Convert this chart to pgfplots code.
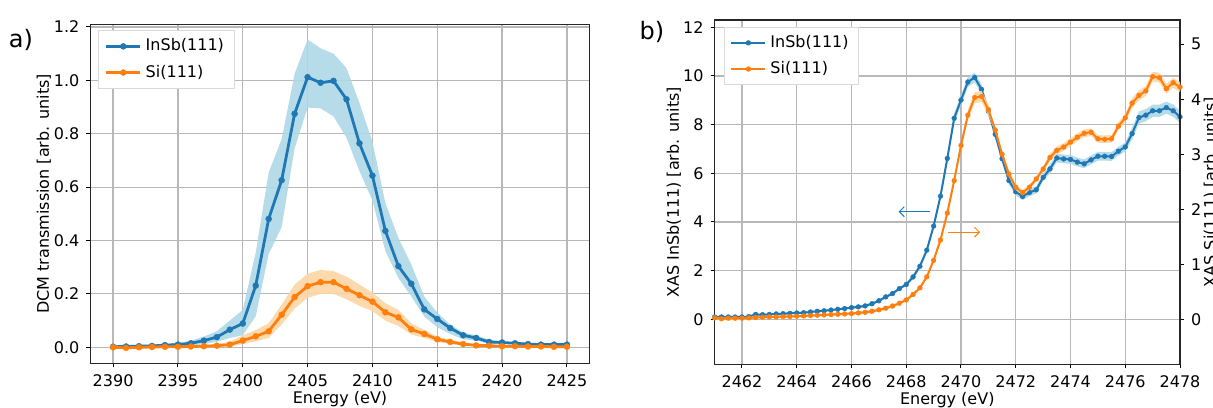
\documentclass[border=0pt]{standalone}
\usepackage{fontspec}
\setmainfont{DejaVu Sans}
\usepackage{pgfplots}
\usepackage{pgfplotstable}
\pgfplotsset{compat=1.18}
\usetikzlibrary{arrows.meta}

\definecolor{tabblue}{HTML}{1F77B4}
\definecolor{taborange}{HTML}{FF7F0E}
\definecolor{bandblue}{HTML}{ADD8E6}
\definecolor{bandorange}{HTML}{FDD5A5}

\newcommand{\lblfont}{\fontsize{8}{9.6}\selectfont}

\pgfplotsset{
  mpl/.style={
    scale only axis,
    tick align=outside,
    major tick length=2pt,
    tick style={black, line width=0.5pt},
    tick pos=left,
    grid=major,
    grid style={black!28, line width=0.6pt},
    axis line style={black!85, line width=0.6pt},
    tick label style={font=\lblfont},
    label style={font=\lblfont},
    xlabel style={at={(axis description cs:0.5,0)}, anchor=base, yshift=-20.3pt},
    /pgf/number format/assume math mode=true,
    /pgf/number format/1000 sep={},
    scaled ticks=false,
    legend cell align=left,
    legend style={font=\lblfont, draw=black!15, fill=white,
      inner xsep=3pt, inner ysep=2pt, row sep=1.5pt},
  },
  dots/.style={mark=*, mark options={solid, line width=0.2pt}},
}

% ---------- panel a: DCM transmission
\pgfplotstableread{
E y
2390 0.002
2391 0.003
2392 0.004
2393 0.005
2394 0.008
2395 0.010
2396 0.015
2397 0.025
2398 0.038
2399 0.066
2400 0.089
2401 0.231
2402 0.481
2403 0.626
2404 0.875
2405 1.012
2406 0.991
2407 0.998
2408 0.929
2409 0.764
2410 0.643
2411 0.436
2412 0.304
2413 0.238
2414 0.142
2415 0.106
2416 0.072
2417 0.045
2418 0.035
2419 0.020
2420 0.018
2421 0.015
2422 0.012
2423 0.010
2424 0.010
2425 0.010
}\dcminsb

% band outline: upper edge forward, lower edge back
\pgfplotstableread{
E b
2390 0.006
2391 0.007
2392 0.008
2393 0.010
2394 0.013
2395 0.017
2396 0.025
2397 0.040
2398 0.060
2399 0.100
2400 0.140
2401 0.355
2402 0.655
2403 0.780
2404 1.025
2405 1.153
2406 1.120
2407 1.100
2408 1.046
2409 0.915
2410 0.770
2411 0.540
2412 0.410
2413 0.310
2414 0.190
2415 0.130
2416 0.085
2417 0.055
2418 0.045
2419 0.028
2420 0.022
2421 0.019
2422 0.015
2423 0.013
2424 0.013
2425 0.013
2425 0.007
2424 0.007
2423 0.007
2422 0.009
2421 0.011
2420 0.013
2419 0.013
2418 0.025
2417 0.030
2416 0.050
2415 0.075
2414 0.115
2413 0.190
2412 0.260
2411 0.360
2410 0.550
2409 0.660
2408 0.785
2407 0.865
2406 0.895
2405 0.898
2404 0.745
2403 0.450
2402 0.350
2401 0.116
2400 0.045
2399 0.035
2398 0.020
2397 0.012
2396 0.007
2395 0.004
2394 0.003
2393 0.001
2392 0.001
2391 0.000
2390 0.000
}\dcminsbband

\pgfplotstableread{
E y
2390 0.000
2391 -0.002
2392 0.000
2393 0.001
2394 0.002
2395 0.002
2396 0.003
2397 0.004
2398 0.006
2399 0.010
2400 0.025
2401 0.041
2402 0.060
2403 0.122
2404 0.188
2405 0.229
2406 0.244
2407 0.244
2408 0.219
2409 0.195
2410 0.171
2411 0.131
2412 0.112
2413 0.067
2414 0.050
2415 0.030
2416 0.020
2417 0.012
2418 0.007
2419 0.006
2420 0.004
2421 0.004
2422 0.003
2423 0.003
2424 0.002
2425 0.002
}\dcmsi

\pgfplotstableread{
E b
2390 0.003
2391 0.001
2392 0.003
2393 0.004
2394 0.005
2395 0.006
2396 0.007
2397 0.009
2398 0.012
2399 0.020
2400 0.045
2401 0.065
2402 0.090
2403 0.160
2404 0.235
2405 0.275
2406 0.290
2407 0.285
2408 0.265
2409 0.235
2410 0.205
2411 0.165
2412 0.140
2413 0.090
2414 0.065
2415 0.040
2416 0.028
2417 0.018
2418 0.011
2419 0.009
2420 0.007
2421 0.007
2422 0.006
2423 0.006
2424 0.005
2425 0.005
2425 -0.001
2424 -0.001
2423 0.000
2422 0.000
2421 0.001
2420 0.001
2419 0.003
2418 0.003
2417 0.006
2416 0.012
2415 0.020
2414 0.035
2413 0.048
2412 0.080
2411 0.100
2410 0.135
2409 0.155
2408 0.180
2407 0.200
2406 0.200
2405 0.185
2404 0.145
2403 0.085
2402 0.035
2401 0.022
2400 0.012
2399 0.003
2398 0.001
2397 0.000
2396 0.000
2395 -0.001
2394 -0.001
2393 -0.002
2392 -0.003
2391 -0.005
2390 -0.003
}\dcmsiband

% ---------- panel b: XAS (InSb left axis, Si right axis)
\pgfplotstableread{
E y
2461.00 0.095
2461.25 0.095
2461.50 0.095
2461.75 0.095
2462.00 0.095
2462.25 0.110
2462.50 0.200
2462.75 0.190
2463.00 0.200
2463.25 0.220
2463.50 0.230
2463.75 0.245
2464.00 0.260
2464.25 0.270
2464.50 0.300
2464.75 0.330
2465.00 0.350
2465.25 0.380
2465.50 0.410
2465.75 0.440
2466.00 0.480
2466.25 0.510
2466.50 0.550
2466.75 0.640
2467.00 0.760
2467.25 0.920
2467.50 1.060
2467.75 1.260
2468.00 1.430
2468.25 1.740
2468.50 2.180
2468.75 2.840
2469.00 3.830
2469.25 5.060
2469.50 6.610
2469.75 8.260
2470.00 9.010
2470.25 9.750
2470.50 9.940
2470.75 9.450
2471.00 8.550
2471.25 7.600
2471.50 6.600
2471.75 5.700
2472.00 5.240
2472.25 5.050
2472.50 5.210
2472.75 5.320
2473.00 5.830
2473.25 6.180
2473.50 6.630
2473.75 6.590
2474.00 6.570
2474.25 6.460
2474.50 6.390
2474.75 6.550
2475.00 6.700
2475.25 6.700
2475.50 6.690
2475.75 6.910
2476.00 7.080
2476.25 7.630
2476.50 8.290
2476.75 8.390
2477.00 8.570
2477.25 8.570
2477.50 8.700
2477.75 8.570
2478.00 8.320
}\xasinsb

\pgfplotstableread{
E b
2461.00 0.135
2461.25 0.135
2461.50 0.135
2461.75 0.135
2462.00 0.135
2462.25 0.150
2462.50 0.240
2462.75 0.230
2463.00 0.240
2463.25 0.260
2463.50 0.270
2463.75 0.285
2464.00 0.300
2464.25 0.310
2464.50 0.340
2464.75 0.370
2465.00 0.390
2465.25 0.420
2465.50 0.450
2465.75 0.480
2466.00 0.520
2466.25 0.570
2466.50 0.610
2466.75 0.700
2467.00 0.820
2467.25 0.980
2467.50 1.120
2467.75 1.320
2468.00 1.490
2468.25 1.840
2468.50 2.280
2468.75 2.940
2469.00 3.930
2469.25 5.160
2469.50 6.710
2469.75 8.460
2470.00 9.210
2470.25 9.950
2470.50 10.140
2470.75 9.650
2471.00 8.750
2471.25 7.750
2471.50 6.750
2471.75 5.850
2472.00 5.390
2472.25 5.200
2472.50 5.360
2472.75 5.470
2473.00 5.980
2473.25 6.360
2473.50 6.810
2473.75 6.770
2474.00 6.750
2474.25 6.640
2474.50 6.570
2474.75 6.730
2475.00 6.880
2475.25 6.880
2475.50 6.870
2475.75 7.090
2476.00 7.260
2476.25 7.880
2476.50 8.540
2476.75 8.640
2477.00 8.820
2477.25 8.820
2477.50 8.950
2477.75 8.820
2478.00 8.570
2478.00 8.070
2477.75 8.320
2477.50 8.450
2477.25 8.320
2477.00 8.320
2476.75 8.140
2476.50 8.040
2476.25 7.380
2476.00 6.900
2475.75 6.730
2475.50 6.510
2475.25 6.520
2475.00 6.520
2474.75 6.370
2474.50 6.210
2474.25 6.280
2474.00 6.390
2473.75 6.410
2473.50 6.450
2473.25 6.000
2473.00 5.680
2472.75 5.170
2472.50 5.060
2472.25 4.900
2472.00 5.090
2471.75 5.550
2471.50 6.450
2471.25 7.450
2471.00 8.350
2470.75 9.250
2470.50 9.740
2470.25 9.550
2470.00 8.810
2469.75 8.060
2469.50 6.510
2469.25 4.960
2469.00 3.730
2468.75 2.740
2468.50 2.080
2468.25 1.640
2468.00 1.370
2467.75 1.200
2467.50 1.000
2467.25 0.860
2467.00 0.700
2466.75 0.580
2466.50 0.490
2466.25 0.450
2466.00 0.440
2465.75 0.400
2465.50 0.370
2465.25 0.340
2465.00 0.310
2464.75 0.290
2464.50 0.260
2464.25 0.230
2464.00 0.220
2463.75 0.205
2463.50 0.190
2463.25 0.180
2463.00 0.160
2462.75 0.150
2462.50 0.160
2462.25 0.070
2462.00 0.055
2461.75 0.055
2461.50 0.055
2461.25 0.055
2461.00 0.055
}\xasinsbband

\pgfplotstableread{
E y
2461.00 0.024
2461.25 0.006
2461.50 0.018
2461.75 0.018
2462.00 0.018
2462.25 0.024
2462.50 0.030
2462.75 0.036
2463.00 0.042
2463.25 0.042
2463.50 0.048
2463.75 0.050
2464.00 0.054
2464.25 0.060
2464.50 0.066
2464.75 0.072
2465.00 0.078
2465.25 0.084
2465.50 0.090
2465.75 0.096
2466.00 0.102
2466.25 0.114
2466.50 0.126
2466.75 0.144
2467.00 0.170
2467.25 0.200
2467.50 0.240
2467.75 0.290
2468.00 0.350
2468.25 0.450
2468.50 0.570
2468.75 0.770
2469.00 1.070
2469.25 1.440
2469.50 1.930
2469.75 2.520
2470.00 3.160
2470.25 3.710
2470.50 4.030
2470.75 4.050
2471.00 3.810
2471.25 3.440
2471.50 3.000
2471.75 2.640
2472.00 2.400
2472.25 2.300
2472.50 2.400
2472.75 2.550
2473.00 2.730
2473.25 2.940
2473.50 3.070
2473.75 3.130
2474.00 3.220
2474.25 3.310
2474.50 3.380
2474.75 3.400
2475.00 3.280
2475.25 3.270
2475.50 3.280
2475.75 3.510
2476.00 3.660
2476.25 3.930
2476.50 4.070
2476.75 4.150
2477.00 4.410
2477.25 4.390
2477.50 4.190
2477.75 4.300
2478.00 4.220
}\xassi

\pgfplotstableread{
E b
2461.00 0.044
2461.25 0.026
2461.50 0.038
2461.75 0.038
2462.00 0.038
2462.25 0.044
2462.50 0.050
2462.75 0.056
2463.00 0.062
2463.25 0.062
2463.50 0.068
2463.75 0.070
2464.00 0.074
2464.25 0.080
2464.50 0.086
2464.75 0.092
2465.00 0.098
2465.25 0.104
2465.50 0.110
2465.75 0.116
2466.00 0.122
2466.25 0.144
2466.50 0.156
2466.75 0.174
2467.00 0.200
2467.25 0.230
2467.50 0.270
2467.75 0.320
2468.00 0.380
2468.25 0.480
2468.50 0.600
2468.75 0.800
2469.00 1.100
2469.25 1.490
2469.50 1.980
2469.75 2.570
2470.00 3.210
2470.25 3.810
2470.50 4.130
2470.75 4.150
2471.00 3.910
2471.25 3.490
2471.50 3.050
2471.75 2.690
2472.00 2.450
2472.25 2.350
2472.50 2.450
2472.75 2.600
2473.00 2.780
2473.25 3.010
2473.50 3.140
2473.75 3.200
2474.00 3.290
2474.25 3.380
2474.50 3.450
2474.75 3.470
2475.00 3.350
2475.25 3.340
2475.50 3.350
2475.75 3.580
2476.00 3.730
2476.25 4.020
2476.50 4.160
2476.75 4.240
2477.00 4.500
2477.25 4.480
2477.50 4.280
2477.75 4.390
2478.00 4.310
2478.00 4.130
2477.75 4.210
2477.50 4.100
2477.25 4.300
2477.00 4.320
2476.75 4.060
2476.50 3.980
2476.25 3.840
2476.00 3.590
2475.75 3.440
2475.50 3.210
2475.25 3.200
2475.00 3.210
2474.75 3.330
2474.50 3.310
2474.25 3.240
2474.00 3.150
2473.75 3.060
2473.50 3.000
2473.25 2.870
2473.00 2.680
2472.75 2.500
2472.50 2.350
2472.25 2.250
2472.00 2.350
2471.75 2.590
2471.50 2.950
2471.25 3.390
2471.00 3.710
2470.75 3.950
2470.50 3.930
2470.25 3.610
2470.00 3.110
2469.75 2.470
2469.50 1.880
2469.25 1.390
2469.00 1.040
2468.75 0.740
2468.50 0.540
2468.25 0.420
2468.00 0.320
2467.75 0.260
2467.50 0.210
2467.25 0.170
2467.00 0.140
2466.75 0.114
2466.50 0.096
2466.25 0.084
2466.00 0.082
2465.75 0.076
2465.50 0.070
2465.25 0.064
2465.00 0.058
2464.75 0.052
2464.50 0.046
2464.25 0.040
2464.00 0.034
2463.75 0.030
2463.50 0.028
2463.25 0.022
2463.00 0.022
2462.75 0.016
2462.50 0.010
2462.25 0.004
2462.00 -0.002
2461.75 -0.002
2461.50 -0.002
2461.25 -0.014
2461.00 0.004
}\xassiband

\begin{document}
\begin{tikzpicture}

\node[font=\fontsize{12}{14}\selectfont] at (10.5pt,183.5pt) {a)};
\node[font=\fontsize{12}{14}\selectfont] at (326pt,187.5pt) {b)};

% ---- a)
\begin{axis}[
  mpl,
  at={(45.2pt,21.85pt)}, anchor=south west,
  width=249.6pt, height=169.5pt,
  xmin=2388.25, xmax=2426.75,
  ymin=-0.06, ymax=1.21,
  xtick={2390,2395,...,2425},
  ytick={0,0.2,...,1.2},
  yticklabel style={/pgf/number format/.cd, fixed, fixed zerofill, precision=1},
  xlabel={Energy (eV)},
  ylabel={DCM transmission [arb. units]},
  ylabel style={at={(axis description cs:-0.093,0.5)}, anchor=center},
  legend style={at={(0.016,0.982)}, anchor=north west},
]
\addplot[fill=bandblue, draw=none, fill opacity=0.9, forget plot] table[x=E,y=b]{\dcminsbband} -- cycle;
\addplot[fill=bandorange, draw=none, fill opacity=0.9, forget plot] table[x=E,y=b]{\dcmsiband} -- cycle;
\addplot[tabblue, line width=1.4pt, dots, mark size=1.5pt] table[x=E,y=y]{\dcminsb};
\addlegendentry{InSb(111)}
\addplot[taborange, line width=1.4pt, dots, mark size=1.5pt] table[x=E,y=y]{\dcmsi};
\addlegendentry{Si(111)}
\end{axis}

% ---- b) left axis: InSb(111)
\begin{axis}[
  mpl,
  at={(357.3pt,21.35pt)}, anchor=south west,
  width=232.7pt, height=172.15pt,
  xmin=2461, xmax=2478,
  ymin=-1.85, ymax=12.3,
  xtick={2462,2464,...,2478},
  ytick={0,2,...,12},
  xlabel={Energy (eV)},
  ylabel={XAS InSb(111) [arb. units]},
  ylabel style={at={(axis description cs:-0.0876,0.5)}, anchor=center},
  legend style={at={(0.02,0.98)}, anchor=north west},
]
\addplot[fill=bandblue, draw=none, fill opacity=0.9, forget plot] table[x=E,y=b]{\xasinsbband} -- cycle;
\addplot[tabblue, line width=1pt, dots, mark size=1.2pt] table[x=E,y=y]{\xasinsb};
\addlegendentry{InSb(111)}
\addlegendimage{taborange, line width=1pt, dots, mark size=1.2pt}
\addlegendentry{Si(111)}
\draw[tabblue, line width=0.5pt, -{Straight Barb[length=2.5pt]}] (axis cs:2468.88,4.42) -- (axis cs:2467.72,4.42);
\draw[taborange, line width=0.5pt, -{Straight Barb[length=2.5pt]}] (axis cs:2469.53,3.58) -- (axis cs:2470.70,3.58);
\end{axis}

% ---- b) right axis: Si(111)
\begin{axis}[
  mpl,
  at={(357.3pt,21.35pt)}, anchor=south west,
  width=232.7pt, height=172.15pt,
  xmin=2461, xmax=2478,
  ymin=-0.82, ymax=5.44,
  grid=none,
  axis x line=none,
  axis y line*=right,
  ytick pos=right,
  ytick={0,1,...,5},
  ylabel={XAS Si(111) [arb. units]},
  ylabel style={at={(axis description cs:1.066,0.5)}, anchor=center},
]
\addplot[fill=bandorange, draw=none, fill opacity=0.9, forget plot] table[x=E,y=b]{\xassiband} -- cycle;
\addplot[taborange, line width=1pt, dots, mark size=1.2pt] table[x=E,y=y]{\xassi};
\end{axis}

\pgfresetboundingbox
\useasboundingbox (0,0) rectangle (606.5pt,203.5pt);
\end{tikzpicture}
\end{document}
